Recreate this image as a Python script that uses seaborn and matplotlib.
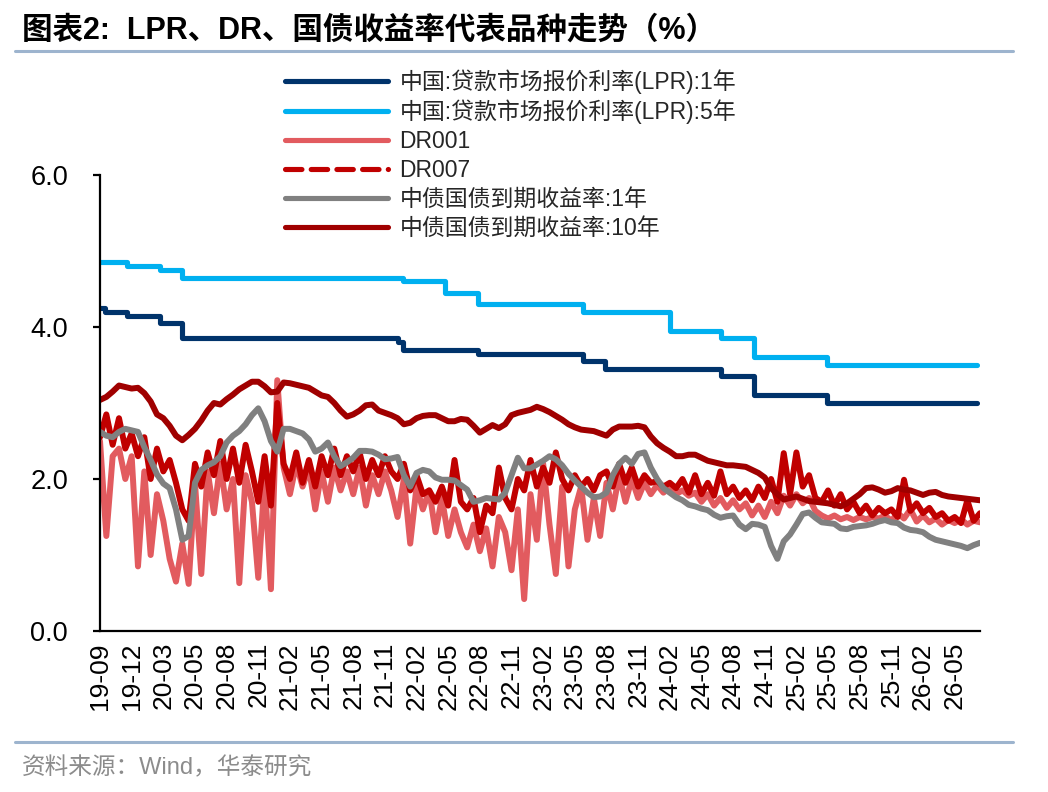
import numpy as np
import pandas as pd
import matplotlib
matplotlib.use("Agg")
import matplotlib.pyplot as plt
from matplotlib.lines import Line2D
import seaborn as sns

# ---------------- data ----------------
tick_labels = ["19-09", "19-12", "20-03", "20-05", "20-08", "20-11", "21-02", "21-05",
               "21-08", "21-11", "22-02", "22-05", "22-08", "22-11", "23-02", "23-05",
               "23-08", "23-11", "24-02", "24-05", "24-08", "24-11", "25-02", "25-05",
               "25-08", "25-11", "26-02", "26-05"]

series_names = ["中国:贷款市场报价利率(LPR):1年", "中国:贷款市场报价利率(LPR):5年",
                "DR001", "DR007", "中债国债到期收益率:1年", "中债国债到期收益率:10年"]

# LPR: change points (position on category axis) and values
lpr1_pos = [0.0, 0.16, 0.85, 1.90, 2.59, 9.42, 9.57, 11.94, 15.26, 15.96, 19.62, 20.66, 22.97, 27.71]
lpr1_val = [4.25, 4.20, 4.15, 4.05, 3.85, 3.80, 3.70, 3.65, 3.55, 3.45, 3.35, 3.10, 3.00, 3.00]
lpr5_pos = [0.0, 0.85, 1.90, 2.59, 9.57, 10.90, 11.94, 15.26, 18.01, 19.62, 20.66, 22.97, 27.71]
lpr5_val = [4.85, 4.80, 4.75, 4.65, 4.60, 4.45, 4.30, 4.20, 3.95, 3.85, 3.60, 3.50, 3.50]

# daily-type series sampled along the category axis
obs_pos = np.round(np.arange(140) * 0.2, 1)

dr001 = [2.50, 1.25, 2.30, 2.40, 2.00, 2.30, 0.85, 2.10, 1.00, 1.80,
         1.45, 0.95, 0.65, 1.15, 0.62, 1.95, 0.75, 2.10, 1.55, 2.20,
         1.60, 2.00, 0.63, 2.05, 1.70, 0.70, 2.00, 0.55, 3.30, 2.15,
         1.80, 2.20, 1.90, 2.15, 1.60, 2.10, 1.70, 2.15, 1.85, 2.10,
         1.80, 2.15, 1.65, 2.05, 1.80, 2.10, 1.85, 1.50, 2.00, 1.15,
         1.90, 1.60, 1.85, 1.30, 1.75, 1.25, 1.60, 1.30, 1.10, 1.40,
         1.05, 1.35, 0.85, 1.50, 1.30, 0.80, 1.60, 0.42, 1.80, 1.20,
         2.20, 1.40, 0.75, 1.90, 0.85, 1.60, 1.90, 1.20, 1.75, 1.25,
         1.95, 1.60, 2.05, 1.70, 2.00, 1.75, 1.95, 1.80, 1.92, 1.82,
         1.90, 1.80, 1.85, 1.78, 1.82, 1.70, 1.80, 1.65, 1.75, 1.62,
         1.72, 1.60, 1.68, 1.52, 1.65, 1.50, 1.70, 1.55, 1.78, 1.65,
         1.80, 1.68, 1.75, 1.58, 1.52, 1.48, 1.52, 1.47, 1.50, 1.46,
         1.50, 1.47, 1.50, 1.48, 1.52, 1.45, 1.55, 1.48, 1.60, 1.44,
         1.52, 1.43, 1.48, 1.40, 1.46, 1.42, 1.47, 1.40, 1.45, 1.43]

dr007 = [2.55, 2.85, 2.45, 2.80, 2.40, 2.60, 2.30, 2.55, 2.00, 2.40,
         2.10, 2.25, 1.95, 1.60, 1.45, 2.20, 1.90, 2.35, 2.05, 2.50,
         2.00, 2.40, 1.95, 2.45, 2.10, 1.70, 2.30, 1.65, 3.00, 2.20,
         2.00, 2.35, 1.95, 2.25, 1.90, 2.30, 2.05, 2.40, 2.05, 2.30,
         2.10, 2.35, 2.00, 2.25, 2.05, 2.30, 2.10, 2.00, 2.20, 1.85,
         2.05, 1.80, 1.85, 1.70, 1.90, 1.65, 2.25, 1.70, 1.60, 1.75,
         1.30, 1.65, 1.55, 2.15, 1.75, 1.60, 2.00, 1.85, 2.25, 1.90,
         2.15, 1.95, 2.35, 2.00, 1.85, 2.05, 1.90, 2.00, 1.85, 2.05,
         2.10, 1.90, 2.20, 1.95, 2.15, 1.90, 2.05, 1.95, 1.97, 1.90,
         1.95, 1.88, 2.00, 1.82, 2.05, 1.80, 1.95, 1.78, 2.10, 1.80,
         1.90, 1.75, 1.85, 1.72, 1.90, 1.75, 2.00, 1.70, 2.34, 1.80,
         2.35, 1.90, 2.05, 1.75, 1.70, 1.85, 1.65, 1.80, 1.60, 1.70,
         1.55, 1.65, 1.52, 1.62, 1.55, 1.60, 1.50, 1.99, 1.58, 1.68,
         1.55, 1.62, 1.50, 1.55, 1.45, 1.50, 1.42, 1.72, 1.45, 1.55]

gov1y = [2.62, 2.57, 2.55, 2.62, 2.66, 2.64, 2.62, 2.42, 2.25, 2.06,
         1.94, 1.88, 1.60, 1.20, 1.25, 1.95, 2.12, 2.18, 2.22, 2.30,
         2.48, 2.57, 2.63, 2.72, 2.84, 2.93, 2.76, 2.50, 2.36, 2.66,
         2.66, 2.63, 2.60, 2.52, 2.36, 2.40, 2.48, 2.30, 2.17, 2.22,
         2.28, 2.37, 2.37, 2.36, 2.32, 2.26, 2.27, 2.29, 2.05, 1.90,
         2.08, 2.12, 2.10, 2.02, 1.99, 1.99, 1.98, 1.92, 1.86, 1.70,
         1.72, 1.75, 1.74, 1.73, 1.82, 2.05, 2.28, 2.14, 2.14, 2.19,
         2.24, 2.30, 2.26, 2.18, 2.07, 1.98, 1.90, 1.82, 1.76, 1.77,
         1.82, 2.05, 2.20, 2.28, 2.20, 2.33, 2.35, 2.15, 2.00, 1.88,
         1.82, 1.76, 1.72, 1.66, 1.64, 1.61, 1.59, 1.53, 1.49, 1.51,
         1.52, 1.40, 1.34, 1.41, 1.40, 1.37, 1.12, 0.95, 1.18, 1.27,
         1.40, 1.54, 1.56, 1.49, 1.43, 1.42, 1.41, 1.35, 1.34, 1.37,
         1.38, 1.39, 1.41, 1.44, 1.46, 1.43, 1.42, 1.36, 1.33, 1.32,
         1.30, 1.24, 1.20, 1.18, 1.16, 1.14, 1.12, 1.09, 1.13, 1.16]

gov10y = [3.04, 3.08, 3.15, 3.23, 3.21, 3.19, 3.20, 3.13, 3.02, 2.85,
          2.80, 2.70, 2.57, 2.51, 2.58, 2.66, 2.77, 2.90, 3.00, 2.98,
          3.05, 3.11, 3.18, 3.23, 3.28, 3.28, 3.22, 3.14, 3.15, 3.27,
          3.26, 3.24, 3.22, 3.20, 3.15, 3.10, 3.08, 3.00, 2.90, 2.82,
          2.85, 2.90, 2.97, 2.98, 2.90, 2.87, 2.84, 2.80, 2.72, 2.74,
          2.80, 2.83, 2.84, 2.84, 2.80, 2.76, 2.76, 2.79, 2.78, 2.70,
          2.61, 2.66, 2.71, 2.67, 2.72, 2.84, 2.87, 2.89, 2.91, 2.95,
          2.92, 2.88, 2.83, 2.78, 2.72, 2.68, 2.65, 2.64, 2.63, 2.60,
          2.57, 2.65, 2.69, 2.69, 2.69, 2.70, 2.68, 2.56, 2.47, 2.41,
          2.36, 2.30, 2.30, 2.32, 2.32, 2.28, 2.24, 2.22, 2.20, 2.18,
          2.18, 2.17, 2.16, 2.12, 2.08, 2.02, 1.88, 1.80, 1.73, 1.75,
          1.77, 1.74, 1.71, 1.70, 1.69, 1.68, 1.66, 1.64, 1.68, 1.74,
          1.80, 1.88, 1.89, 1.86, 1.82, 1.84, 1.88, 1.86, 1.85, 1.82,
          1.79, 1.82, 1.83, 1.79, 1.77, 1.76, 1.75, 1.74, 1.73, 1.72]

# ---------------- style ----------------
sns.set_theme(style="ticks")
FAM = ["Liberation Sans", "Noto Sans CJK SC", "DejaVu Sans"]
plt.rcParams["font.family"] = FAM
plt.rcParams["axes.unicode_minus"] = False

colors = ["#00336B", "#00B0F0", "#E25B5F", "#C00000", "#808080", "#A00000"]

W, H = 1048, 792
fig = plt.figure(figsize=(W / 100, H / 100), dpi=100)
fig.patch.set_facecolor("white")
ax = fig.add_axes([100 / W, 1 - 631 / H, 880 / W, 456 / H])

lw_step = 3.7
lw_obs = 4.3
sns.lineplot(x=lpr1_pos, y=lpr1_val, ax=ax, color=colors[0], linewidth=lw_step,
             drawstyle="steps-post", estimator=None, sort=False, legend=False,
             solid_capstyle="round", solid_joinstyle="round")
sns.lineplot(x=lpr5_pos, y=lpr5_val, ax=ax, color=colors[1], linewidth=lw_step,
             drawstyle="steps-post", estimator=None, sort=False, legend=False,
             solid_capstyle="round", solid_joinstyle="round")
for vals, c in [(dr001, colors[2]), (dr007, colors[3]), (gov1y, colors[4]), (gov10y, colors[5])]:
    sns.lineplot(x=obs_pos, y=vals, ax=ax, color=c, linewidth=lw_obs,
                 estimator=None, sort=False, legend=False,
                 solid_capstyle="round", solid_joinstyle="round")

ax.set_xlim(0, 27.8)
ax.set_ylim(0, 6)
ax.set_yticks([0, 2, 4, 6])
ax.set_yticklabels(["0.0", "2.0", "4.0", "6.0"])
ax.set_xticks(range(len(tick_labels)))
ax.set_xticklabels(tick_labels, rotation=90)
ax.set_xlabel("")
ax.set_ylabel("")
for s in ["top", "right"]:
    ax.spines[s].set_visible(False)
for s in ["left", "bottom"]:
    ax.spines[s].set_color("black")
    ax.spines[s].set_linewidth(1.6)
ax.tick_params(axis="y", direction="out", length=5, width=1.6, pad=18,
               labelsize=19.5, colors="black")
ax.tick_params(axis="x", length=0, pad=8, labelsize=19, colors="black")
ax.grid(False)

# legend
handles = []
for name, c in zip(series_names, colors):
    if name == "DR007":
        h = Line2D([], [], color=c, linewidth=lw_step, linestyle=(0, (3.2, 1.8)),
                   dash_capstyle="round")
    else:
        h = Line2D([], [], color=c, linewidth=lw_step, solid_capstyle="round")
    handles.append(h)
leg = fig.legend(handles, series_names, loc="upper left",
                 bbox_to_anchor=(285 / W, 1 - 69 / H), frameon=False,
                 fontsize=16.5, handlelength=4.5, handletextpad=0.5,
                 labelspacing=0.26, borderpad=0, borderaxespad=0)

# title, rules and source
fig.text(22 / W, 1 - 31 / H, "图表2:  LPR、DR、国债收益率代表品种走势（%）",
         fontsize=22, fontweight="bold", ha="left", va="center", color="black",
         family=FAM)
fig.add_artist(Line2D([15 / W, 1013 / W], [1 - 51 / H, 1 - 51 / H],
                      color="#9DB4CE", linewidth=2.2))
fig.add_artist(Line2D([15 / W, 1013 / W], [1 - 742 / H, 1 - 742 / H],
                      color="#9DB4CE", linewidth=2.2))
fig.text(22 / W, 1 - 768 / H, "资料来源：Wind，华泰研究", fontsize=17,
         ha="left", va="center", color="#8C8C8C", family=FAM)

fig.savefig("out.png", dpi=100, facecolor="white")
